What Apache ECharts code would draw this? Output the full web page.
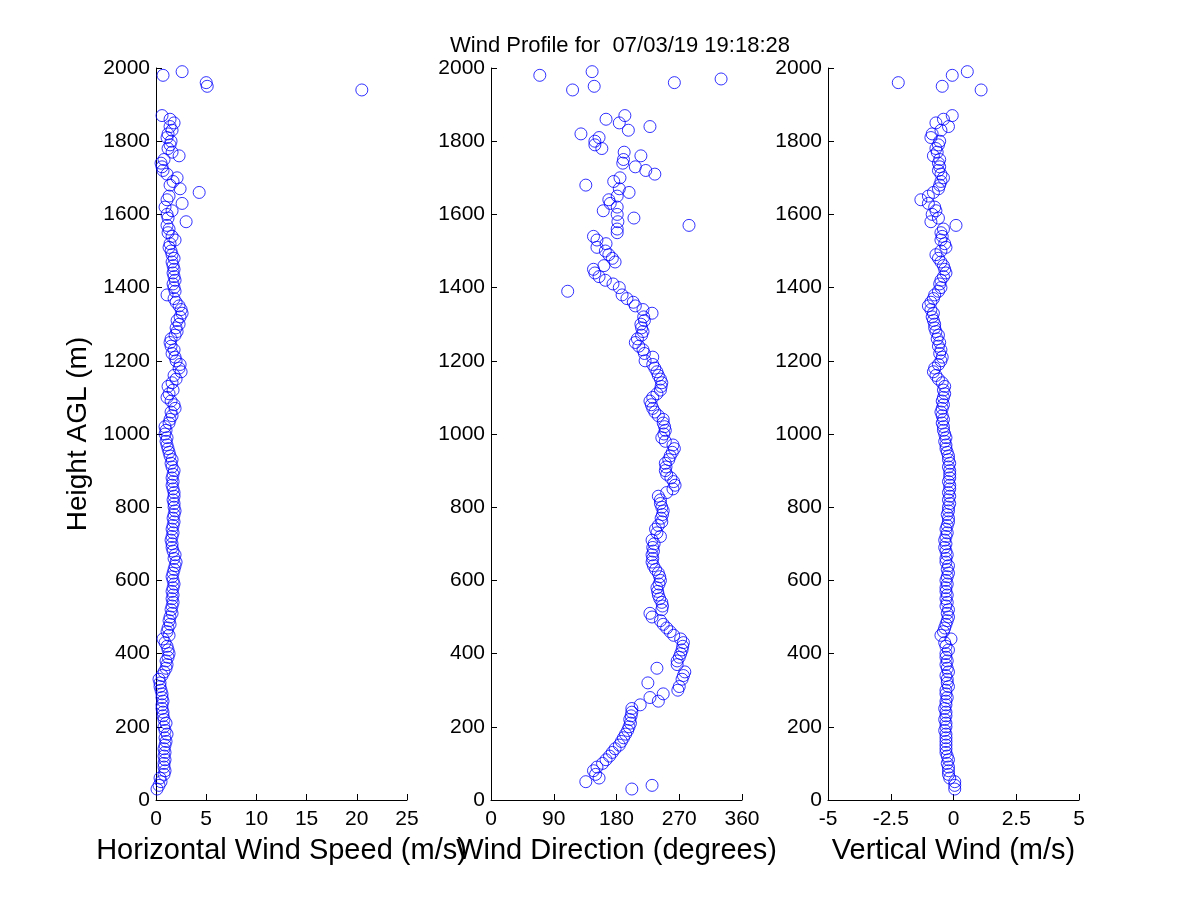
<!DOCTYPE html>
<html>
<head>
<meta charset="utf-8">
<title>Wind Profile</title>
<script src="https://cdn.jsdelivr.net/npm/echarts@6/dist/echarts.min.js"></script>
<style>
  html, body { margin: 0; padding: 0; background: #fff; }
  #main { width: 1200px; height: 900px; }
</style>
</head>
<body>
<div id="main"></div>
<script>
// heights above ground (m)
const HEIGHTS = [
  30, 40, 50, 60, 70, 80, 90, 100, 110, 120,
  130, 140, 150, 160, 170, 180, 190, 200, 210, 220,
  230, 240, 250, 260, 270, 280, 290, 300, 310, 320,
  330, 340, 350, 360, 370, 380, 390, 400, 410, 420,
  430, 440, 450, 460, 470, 480, 490, 500, 510, 520,
  530, 540, 550, 560, 570, 580, 590, 600, 610, 620,
  630, 640, 650, 660, 670, 680, 690, 700, 710, 720,
  730, 740, 750, 760, 770, 780, 790, 800, 810, 820,
  830, 840, 850, 860, 870, 880, 890, 900, 910, 920,
  930, 940, 950, 960, 970, 980, 990, 1000, 1010, 1020,
  1030, 1040, 1050, 1060, 1070, 1080, 1090, 1100, 1110, 1120,
  1130, 1140, 1150, 1160, 1170, 1180, 1190, 1200, 1210, 1220,
  1230, 1240, 1250, 1260, 1270, 1280, 1290, 1300, 1310, 1320,
  1330, 1340, 1350, 1360, 1370, 1380, 1390, 1400, 1410, 1420,
  1430, 1440, 1450, 1460, 1470, 1480, 1490, 1500, 1510, 1520,
  1530, 1540, 1550, 1560, 1570, 1580, 1590, 1600, 1610, 1620,
  1630, 1640, 1650, 1660, 1670, 1680, 1690, 1700, 1710, 1720,
  1730, 1740, 1750, 1760, 1770, 1780, 1790, 1800, 1810, 1820,
  1830, 1840, 1850, 1860, 1870,
  1940, 1950, 1960, 1970, 1980, 1990
];

// horizontal wind speed (m/s), '-' = no value
const SPEED = [
  0.1, 0.3, 0.5, 0.4, 0.8, 0.9, 0.8, 0.8, 0.9, 0.8,
  0.9, 0.8, 0.9, 1.0, 0.9, 1.1, 0.9, 0.8, 1.0, 0.8,
  0.7, 0.7, 0.6, 0.6, 0.7, 0.6, 0.6, 0.5, 0.4, 0.4,
  0.3, 0.6, 0.8, 1.0, 1.1, 1.0, 1.2, 1.3, 1.2, 1.1,
  0.9, 0.7, 1.3, 1.1, 1.2, 1.4, 1.3, 1.4, 1.6, 1.5,
  1.6, 1.7, 1.6, 1.7, 1.6, 1.7, 1.8, 1.7, 1.6, 1.7,
  1.8, 1.9, 2.0, 1.8, 1.9, 1.7, 1.6, 1.6, 1.5, 1.6,
  1.7, 1.6, 1.7, 1.8, 1.7, 1.8, 1.9, 1.8, 1.8, 1.7,
  1.8, 1.8, 1.7, 1.6, 1.7, 1.6, 1.7, 1.8, 1.6, 1.5,
  1.6, 1.4, 1.3, 1.2, 1.1, 1.0, 1.1, 0.9, 1.0, 0.9,
  1.3, 1.4, 1.6, 1.5, 1.9, 1.8, 1.5, 1.1, 1.3, 1.7,
  1.2, 1.6, 2.0, 1.8, 2.5, 2.3, 2.4, 2.0, 1.9, 1.6,
  1.8, 1.5, 1.4, 1.5, 1.9, 2.1, 2.0, 2.3, 2.1, 2.4,
  2.6, 2.5, 2.3, 2.0, 1.8, 1.1, 1.9, 1.8, 1.7, 1.9,
  1.8, 1.7, 1.8, 1.7, 1.6, 1.8, 1.6, 1.5, 1.3, 1.4,
  1.9, 1.6, 1.2, 1.3, 1.1, 3.0, 1.2, 1.1, 1.6, 0.9,
  2.6, 1.1, 1.3, 4.3, 2.4, 1.4, 1.7, 2.1, 1.1, 0.7,
  0.6, 0.5, 0.8, 2.3, 1.6, 1.2, 1.4, 1.5, 1.1, 1.2,
  1.6, 1.4, 1.8, 1.4, 0.6,
  20.5, 5.1, 5.0, '-', 0.7, 2.6
];

// wind direction (degrees)
const DIRECTION = [
  202, 231, 136, 155, 150, 147, 152, 160, 165, 170,
  174, 178, 184, 187, 190, 193, 196, 198, 200, 199,
  201, 202, 202, 214, 240, 228, 247, 268, 270, 225,
  274, 276, 278, 238, 267, 267, 270, 272, 274, 275,
  276, 272, 262, 257, 252, 247, 243, 231, 228, 245,
  246, 245, 242, 240, 239, 238, 241, 243, 242, 240,
  236, 233, 231, 232, 231, 233, 232, 234, 231, 243,
  238, 236, 240, 245, 244, 246, 247, 245, 243, 243,
  240, 252, 261, 264, 262, 258, 252, 250, 251, 250,
  255, 257, 260, 263, 261, 250, 245, 248, 250, 249,
  247, 247, 240, 235, 232, 230, 228, 232, 238, 243,
  244, 245, 243, 240, 238, 235, 232, 221, 232, 220,
  218, 212, 207, 210, 216, 218, 216, 215, 220, 219,
  231, 218, 207, 204, 195, 188, 110, 184, 175, 164,
  155, 149, 147, 162, 178, 174, 169, 164, 152, 165,
  152, 147, 181, 181, 284, 182, 205, 181, 161, 181,
  171, 169, 181, 198, 184, 136, 176, 185, 235, 222,
  207, 189, 190, 215, 191, 159, 149, 149, 155, 129,
  197, 228, 184, 165, 192,
  117, 148, 263, 330, 70, 145
];

// vertical wind (m/s), '-' = no value
const VERTICAL = [
  0.05, 0.05, 0.05, -0.15, -0.2, -0.2, -0.2, -0.25, -0.2, -0.25,
  -0.3, -0.3, -0.3, -0.3, -0.3, -0.3, -0.35, -0.3, -0.3, -0.35,
  -0.3, -0.3, -0.35, -0.3, -0.3, -0.25, -0.3, -0.3, -0.2, -0.25,
  -0.25, -0.3, -0.2, -0.25, -0.3, -0.25, -0.3, -0.3, -0.2, -0.3,
  -0.35, -0.1, -0.5, -0.4, -0.35, -0.3, -0.25, -0.2, -0.25, -0.2,
  -0.3, -0.25, -0.3, -0.25, -0.3, -0.3, -0.25, -0.3, -0.25, -0.2,
  -0.25, -0.2, -0.3, -0.3, -0.25, -0.3, -0.35, -0.3, -0.35, -0.3,
  -0.25, -0.3, -0.25, -0.2, -0.2, -0.25, -0.2, -0.2, -0.15, -0.2,
  -0.15, -0.2, -0.15, -0.15, -0.2, -0.15, -0.15, -0.15, -0.2, -0.15,
  -0.2, -0.2, -0.25, -0.3, -0.3, -0.35, -0.3, -0.35, -0.4, -0.4,
  -0.45, -0.4, -0.45, -0.5, -0.45, -0.4, -0.45, -0.4, -0.35, -0.4,
  -0.35, -0.45, -0.6, -0.7, -0.8, -0.75, -0.6, -0.5, -0.45, -0.55,
  -0.5, -0.6, -0.55, -0.65, -0.6, -0.7, -0.75, -0.75, -0.8, -0.85,
  -0.8, -0.9, -1.0, -0.9, -0.8, -0.75, -0.6, -0.5, -0.55, -0.5,
  -0.4, -0.3, -0.35, -0.4, -0.5, -0.6, -0.7, -0.5, -0.3, -0.35,
  -0.5, -0.45, -0.5, -0.4, 0.1, -0.9, -0.6, -0.85, -0.7, -0.75,
  -1.0, -1.3, -1.0, -0.8, -0.6, -0.55, -0.5, -0.4, -0.5, -0.6,
  -0.55, -0.6, -0.55, -0.8, -0.65, -0.7, -0.6, -0.55, -0.9, -0.85,
  -0.5, -0.2, -0.7, -0.4, -0.05,
  1.1, -0.45, -2.2, '-', -0.05, 0.55
];

const TITLE = 'Wind Profile for  07/03/19 19:18:28';
const X_NAMES = ['Horizontal Wind Speed (m/s)', 'Wind Direction (degrees)', 'Vertical Wind (m/s)'];
const X_RANGES = [[0, 25, 5], [0, 360, 90], [-5, 5, 2.5]];

const FONT = '"Liberation Sans", Arial, sans-serif';
const GRID_LEFT = [156, 491, 828];

function pairs(values){
  const out = [];
  HEIGHTS.forEach((h, i) => {
    if (values[i] !== '-') out.push([values[i], h]);
  });
  return out;
}

const chart = echarts.init(document.getElementById('main'), null, {renderer: 'canvas'});

const axisCommon = {
  axisLine: {show: true, onZero: false, lineStyle: {color: '#000', width: 1}},
  axisTick: {show: true, inside: true, length: 6, lineStyle: {color: '#000'}},
  splitLine: {show: false},
  axisLabel: {color: '#000', fontSize: 21, fontFamily: FONT, formatter: v => String(v)}
};

chart.setOption({
  animation: false,
  backgroundColor: '#fff',
  title: {
    text: TITLE,
    left: 615,
    top: 30,
    textAlign: 'center',
    textStyle: {fontSize: 22, fontWeight: 'normal', color: '#000', fontFamily: FONT}
  },
  grid: GRID_LEFT.map(l => ({left: l, top: 68, width: 251, height: 732})),
  xAxis: X_RANGES.map((r, i) => Object.assign({}, axisCommon, {
    type: 'value',
    gridIndex: i,
    min: r[0],
    max: r[1],
    interval: r[2],
    name: X_NAMES[i],
    nameLocation: 'middle',
    nameGap: 36,
    nameTextStyle: {fontSize: 29, color: '#000', fontFamily: FONT},
    axisLabel: Object.assign({}, axisCommon.axisLabel, {margin: 9})
  })),
  yAxis: [0, 1, 2].map(i => Object.assign({}, axisCommon, {
    type: 'value',
    gridIndex: i,
    min: 0,
    max: 2000,
    interval: 200,
    name: i === 0 ? 'Height AGL (m)' : '',
    nameLocation: 'middle',
    nameGap: 64,
    nameTextStyle: {fontSize: 28, color: '#000', fontFamily: FONT},
    axisLabel: Object.assign({}, axisCommon.axisLabel, {margin: 6})
  })),
  series: [SPEED, DIRECTION, VERTICAL].map((vals, i) => ({
    type: 'scatter',
    xAxisIndex: i,
    yAxisIndex: i,
    symbol: 'circle',
    symbolSize: 12,
    itemStyle: {color: 'rgba(0,0,0,0)', borderColor: '#0000ff', borderWidth: 1},
    emphasis: {disabled: true},
    data: pairs(vals)
  }))
});
</script>
</body>
</html>
